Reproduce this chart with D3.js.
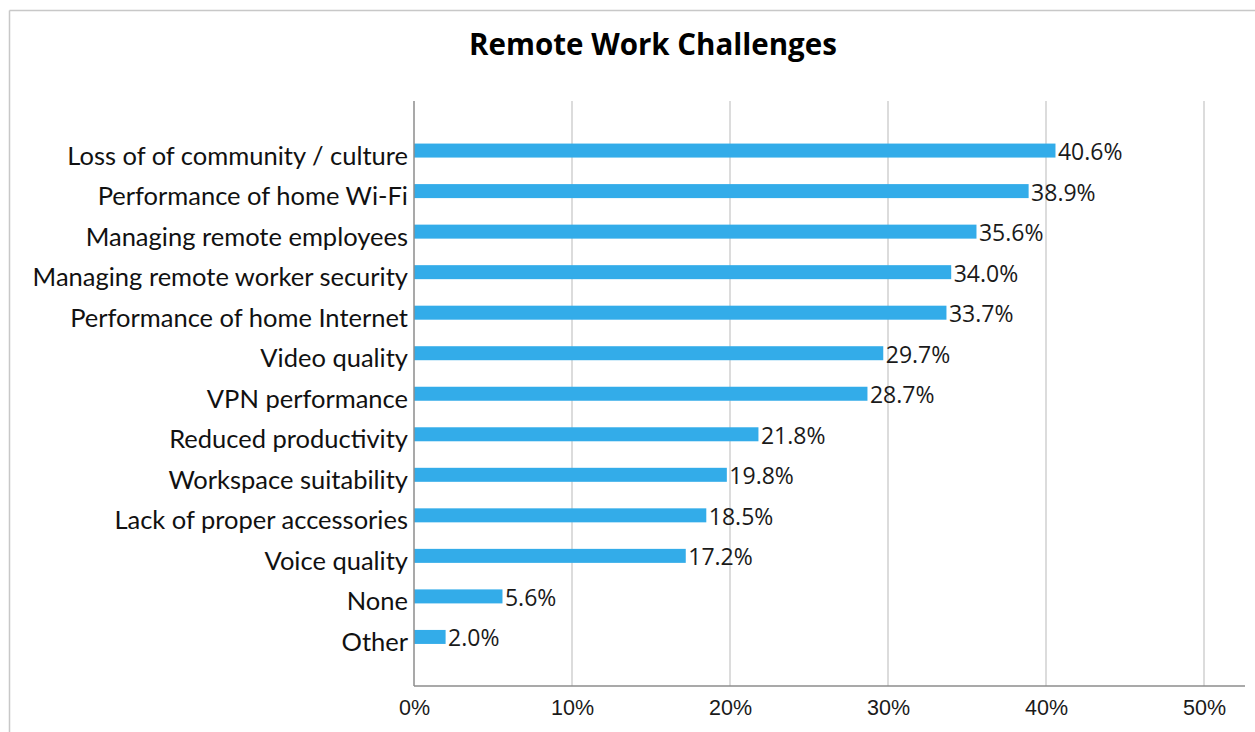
<!DOCTYPE html>
<html>
<head>
<meta charset="utf-8">
<script src="https://cdn.jsdelivr.net/npm/d3@7"></script>
<style>
  html, body { margin: 0; padding: 0; background: #fff; }
  svg { display: block; }
</style>
</head>
<body>
<svg id="chart" width="1255" height="732"></svg>
<script>
const categories = [
  "Loss of of community / culture",
  "Performance of home Wi-Fi",
  "Managing remote employees",
  "Managing remote worker security",
  "Performance of home Internet",
  "Video quality",
  "VPN performance",
  "Reduced productivity",
  "Workspace suitability",
  "Lack of proper accessories",
  "Voice quality",
  "None",
  "Other"
];
const values = [40.6, 38.9, 35.6, 34.0, 33.7, 29.7, 28.7, 21.8, 19.8, 18.5, 17.2, 5.6, 2.0];
const tickValues = [0, 10, 20, 30, 40, 50];
const title = "Remote Work Challenges";

const svg = d3.select("#chart");
const W = 1255, H = 732;

// frame border (top and left)
svg.append("line").attr("x1", 9.5).attr("x2", W).attr("y1", 10.5).attr("y2", 10.5)
  .attr("stroke", "#c8c8c8").attr("stroke-width", 1.5);
svg.append("line").attr("x1", 9.5).attr("x2", 9.5).attr("y1", 10.5).attr("y2", H)
  .attr("stroke", "#c8c8c8").attr("stroke-width", 1.5);

const x0 = 414, x50 = 1204, plotTop = 101, plotBottom = 686, axisRight = 1245;
const x = d3.scaleLinear().domain([0, 50]).range([x0, x50]);
const y = d3.scaleBand().domain(categories).range([130.2, 657.3]).paddingInner(0.655).paddingOuter(0.33);

// title
svg.append("text").attr("x", 653).attr("y", 55)
  .attr("text-anchor", "middle")
  .attr("font-family", "'Open Sans', Lato, sans-serif")
  .attr("font-weight", "bold").attr("font-size", 29.5)
  .attr("fill", "#000").text(title);

// gridlines
svg.append("g").selectAll("line").data(tickValues.filter(d => d > 0)).join("line")
  .attr("x1", d => x(d)).attr("x2", d => x(d))
  .attr("y1", plotTop).attr("y2", plotBottom)
  .attr("stroke", "#d0d0d0").attr("stroke-width", 1.5);

// bars
const bh = 14;
svg.append("g").selectAll("rect").data(values).join("rect")
  .attr("x", x(0))
  .attr("y", (d, i) => y(categories[i]) + y.bandwidth() / 2 - bh / 2)
  .attr("width", d => x(d) - x(0))
  .attr("height", bh)
  .attr("fill", "#33ACE9");

// value labels
svg.append("g").selectAll("text").data(values).join("text")
  .attr("x", d => x(d) + 2.5)
  .attr("y", (d, i) => y(categories[i]) + y.bandwidth() / 2 + 9.5)
  .attr("font-family", "'Open Sans', sans-serif")
  .attr("font-size", 23).attr("fill", "#1a1a1a")
  .text(d => d.toFixed(1) + "%");

// x axis
const xAxis = d3.axisBottom(x).tickValues(tickValues).tickSize(0).tickFormat(d => d + "%").tickPadding(14);
const gx = svg.append("g").attr("transform", `translate(0,${plotBottom})`).call(xAxis);
gx.select(".domain").remove();
gx.selectAll("text").attr("font-family", "'Liberation Sans', Arial, sans-serif")
  .attr("font-size", 21.5).attr("fill", "#1a1a1a");
svg.append("line").attr("x1", x0).attr("x2", axisRight).attr("y1", plotBottom).attr("y2", plotBottom)
  .attr("stroke", "#8c8c8c").attr("stroke-width", 1.5);

// y axis
const yAxis = d3.axisLeft(y).tickSize(0).tickPadding(6);
const gy = svg.append("g").attr("transform", `translate(${x0},0)`).call(yAxis);
gy.select(".domain").remove();
gy.selectAll("text").attr("font-family", "Lato, 'Open Sans', sans-serif")
  .attr("font-size", 25.5).attr("fill", "#111").attr("dy", "0.55em");
svg.append("line").attr("x1", x0).attr("x2", x0).attr("y1", plotTop).attr("y2", plotBottom)
  .attr("stroke", "#8c8c8c").attr("stroke-width", 1.5);
</script>
</body>
</html>
